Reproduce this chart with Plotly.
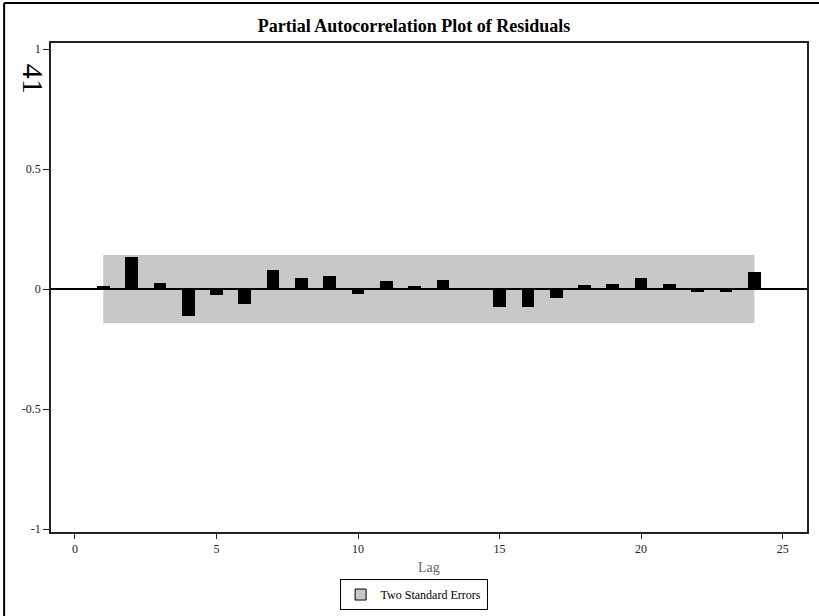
import plotly.graph_objects as go

# Partial autocorrelation of residuals, lags 1-24
lags = list(range(1, 25))
pacf = [0.011, 0.132, 0.026, -0.112, -0.026, -0.064, 0.079, 0.047, 0.054, -0.021,
        0.032, 0.011, 0.036, 0.004, -0.075, -0.075, -0.037, 0.015, 0.022, 0.047,
        0.022, -0.011, -0.011, 0.069]
two_se = 0.1414          # 2 / sqrt(n), n = 200
band_lags = [1, 24]

y_ticks = [-1, -0.5, 0, 0.5, 1]
y_tick_text = ["-1", "-0.5", "0", "0.5", "1"]
x_ticks = [0, 5, 10, 15, 20, 25]

SERIF = "Liberation Serif, Times New Roman, serif"
BAND = "#c8c8c8"

fig = go.Figure()

fig.add_trace(go.Bar(
    x=lags, y=pacf, width=0.45,
    marker=dict(color="black", line=dict(width=0)),
    showlegend=False,
))

# legend entry for the standard-error band
fig.add_trace(go.Scatter(
    x=[None], y=[None], mode="markers", name="Two Standard Errors",
    marker=dict(symbol="square", size=11, color=BAND, line=dict(color="black", width=1)),
))

fig.add_shape(type="rect", layer="below", xref="x", yref="y",
              x0=band_lags[0], x1=band_lags[1], y0=-two_se, y1=two_se,
              fillcolor=BAND, line=dict(width=0))

# page frame (top and left edges)
fig.add_shape(type="line", xref="paper", yref="paper", x0=-0.062, x1=1.02,
              y0=1.0818, y1=1.0818, line=dict(color="black", width=2))
fig.add_shape(type="line", xref="paper", yref="paper", x0=-0.062, x1=-0.062,
              y0=1.0818, y1=-0.2, line=dict(color="black", width=2))

fig.add_annotation(text="41", xref="paper", yref="paper", x=-0.0231, y=0.928,
                   textangle=90, showarrow=False, xanchor="center", yanchor="middle",
                   font=dict(family=SERIF, size=30, color="black"))

fig.add_annotation(text="Lag", xref="paper", yref="paper", x=0.5, y=-0.073,
                   showarrow=False, xanchor="center", yanchor="middle",
                   font=dict(family=SERIF, size=14, color="#666666"))

fig.update_layout(
    width=819, height=616,
    margin=dict(l=51, r=10, t=43, b=84),
    paper_bgcolor="white", plot_bgcolor="white",
    title=dict(text="<b>Partial Autocorrelation Plot of Residuals</b>",
               x=0.5055, xanchor="center", y=0.958, yanchor="middle",
               font=dict(family=SERIF, size=18, color="black")),
    font=dict(family=SERIF, size=12, color="#222222"),
    bargap=0,
    legend=dict(orientation="h", xref="container", yref="container",
                x=0.505, xanchor="center", y=0.06, yanchor="top",
                bordercolor="black", borderwidth=1, bgcolor="white",
                font=dict(family=SERIF, size=12, color="black")),
    xaxis=dict(range=[-0.846, 25.86], tickvals=x_ticks, ticks="outside", ticklen=5,
               tickcolor="#222222", showgrid=False, zeroline=False,
               showline=True, linecolor="#222222", linewidth=1.5, mirror=True),
    yaxis=dict(range=[-1.0125, 1.025], tickvals=y_ticks, ticktext=y_tick_text,
               ticks="outside", ticklen=6, tickcolor="#222222", showgrid=False,
               zeroline=True, zerolinecolor="black", zerolinewidth=1.5,
               showline=True, linecolor="#222222", linewidth=1.5, mirror=True),
)

fig.write_html("out.html")
